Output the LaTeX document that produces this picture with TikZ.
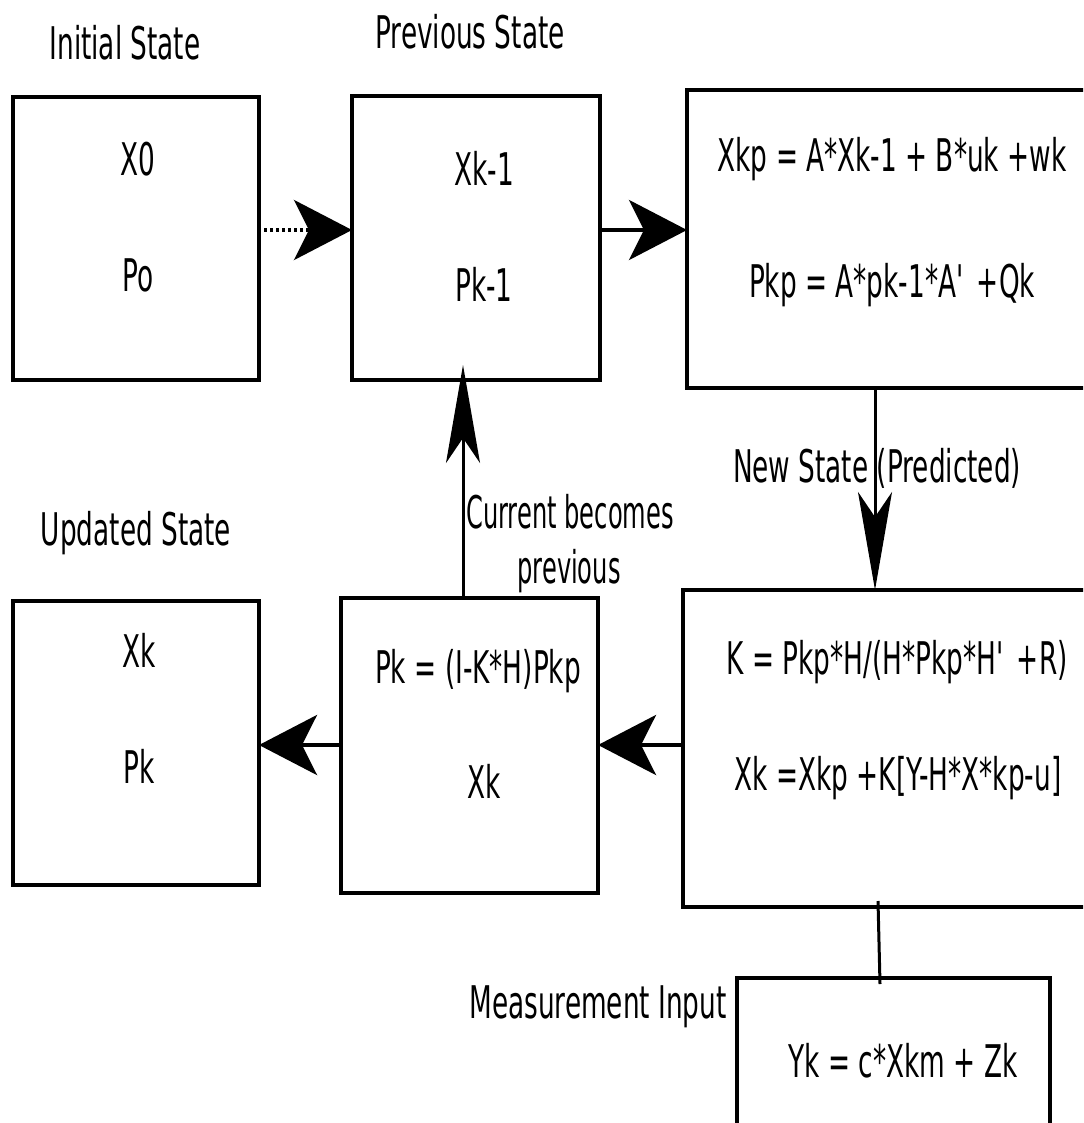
\documentclass[tikz,border=0pt]{standalone}
\usepackage{fontspec}
\setmainfont[FakeStretch=0.585]{DejaVu Sans}
\newfontfamily\narrowfont[FakeStretch=0.536]{DejaVu Sans}
\usetikzlibrary{arrows.meta}
\begin{document}
\begin{tikzpicture}[x=1pt,y=-1pt,
  box/.style={draw,line width=4pt,rectangle,inner sep=0pt,outer sep=0pt},
  lbl/.style={anchor=base,inner sep=0pt,font=\fontsize{45}{54}\selectfont},
  narrowlbl/.style={lbl,font=\fontsize{45}{54}\narrowfont},
  harrow/.style={line width=4pt,-{Stealth[length=58pt,width=60pt,inset=15pt]}},
  varrow/.style={line width=3pt,-{Stealth[length=98pt,width=34pt,inset=25pt]}},
  link/.style={line width=3pt}]
\useasboundingbox (0,0) rectangle (1083,1123);
\clip (0,0) rectangle (1083,1123);

% state boxes
\node[box,minimum width=246pt,minimum height=283pt] (init) at (136,238.5) {};
\node[box,minimum width=248pt,minimum height=284pt] (prev) at (476,238) {};
\node[box,minimum width=408pt,minimum height=298pt] (pred) at (891,239) {};
\node[box,minimum width=246pt,minimum height=284pt] (upd)  at (136,743) {};
\node[box,minimum width=257pt,minimum height=295pt] (pkb)  at (469.5,745.5) {};
\node[box,minimum width=412pt,minimum height=317pt] (kb)   at (889,748.5) {};
\node[box,minimum width=313pt,minimum height=157pt] (yb)   at (893.5,1056.5) {};

% headings
\node[lbl] (tInit) at (125,60) {Initial State};
\node[lbl] (tPrev) at (470,49) {Previous State};
\node[lbl] (tUpd)  at (136,545) {Updated State};
\node[lbl] (tNew)  at (877,482) {New State (Predicted)};
\node[narrowlbl] (tCur1) at (570,528) {Current becomes};
\node[narrowlbl] (tCur2) at (569,583) {previous};
\node[lbl] (tMeas) at (598,1018) {Measurement Input};

% box contents
\node[lbl] (x0)  at (138,176) {X0};
\node[lbl] (p0)  at (138,291) {Po};
\node[lbl] (xk1) at (484,186) {Xk-1};
\node[lbl] (pk1) at (484,301) {Pk-1};
\node[lbl] (xkp) at (892,172) {Xkp = A*Xk-1 + B*uk +wk};
\node[lbl] (pkp) at (892,297) {Pkp = A*pk-1*A\textquotesingle{} +Qk};
\node[lbl] (xku) at (139,667) {Xk};
\node[lbl] (pku) at (139,783) {Pk};
\node[lbl] (pkf) at (478,683) {Pk = (I-K*H)Pkp};
\node[lbl] (xkf) at (484,798) {Xk};
\node[lbl] (kg)  at (897,674) {K = Pkp*H/(H*Pkp*H\textquotesingle{} +R)};
\node[lbl] (xkk) at (898,790) {Xk =Xkp +K[Y-H*X*kp-u]};
\node[lbl] (yk)  at (903,1077) {Yk = c*Xkm + Zk};

% connector rows and columns
\coordinate (rowTop) at (0,230);
\coordinate (rowBot) at (0,745);
\coordinate (colUp)  at (463,0);
\coordinate (colDn)  at (875,0);
\coordinate (m1) at (878,0);
\coordinate (m2) at (880,0);

\draw[harrow,dash pattern=on 3pt off 3pt,shorten <=5pt] (init.east |- rowTop) -- (prev.west |- rowTop);
\draw[harrow] (prev.east |- rowTop) -- (pred.west |- rowTop);
\draw[varrow] (pred.south -| colDn) -- (kb.north -| colDn);
\draw[harrow] (kb.west |- rowBot) -- (pkb.east |- rowBot);
\draw[harrow] (pkb.west |- rowBot) -- (upd.east |- rowBot);
\draw[varrow,shorten >=-15pt] (pkb.north -| colUp) -- (prev.south -| colUp);
\draw[link] ([yshift=6pt]kb.south -| m1) -- ([yshift=-6pt]yb.north -| m2);
\end{tikzpicture}
\end{document}
